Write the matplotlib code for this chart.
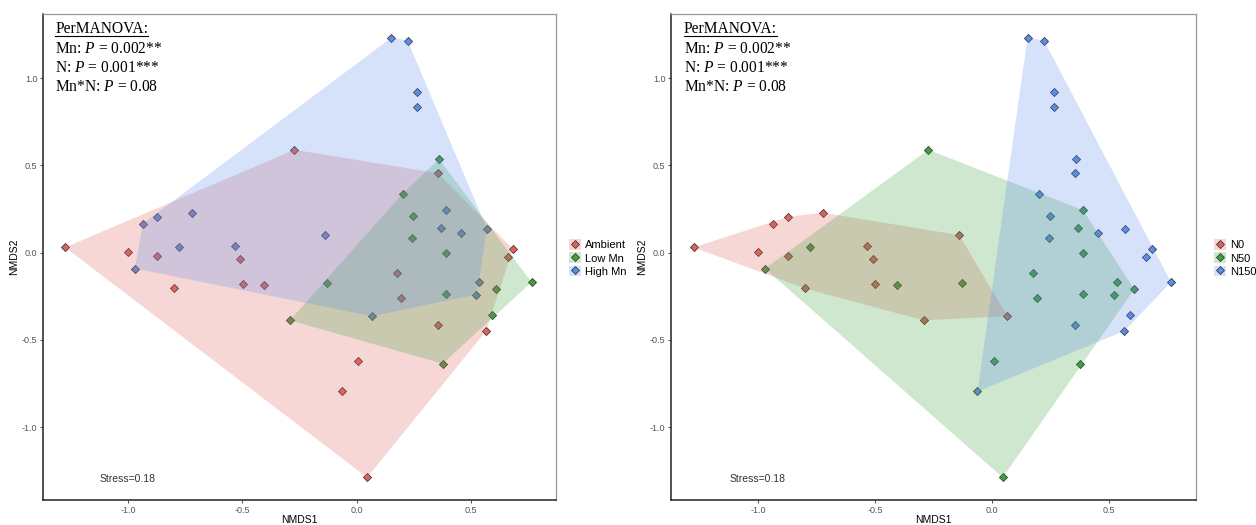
import numpy as np
import matplotlib
matplotlib.use("Agg")
import matplotlib.pyplot as plt
from matplotlib.patches import Patch, Polygon
from matplotlib.lines import Line2D

# NMDS scores
nmds1 = [-1.275, -1.002, -0.872, -0.935, -0.873, -0.722, -0.779, -0.534, -0.272, -0.140,
         0.152, 0.223, 0.266, 0.265, 0.360, 0.355, 0.201, 0.246, 0.389, 0.368,
         0.455, 0.570, 0.242, 0.391, 0.683, 0.660, 0.176, -0.130, 0.192, 0.391,
         0.535, 0.520, 0.608, 0.765, 0.066, 0.590, 0.566, 0.355, 0.376, 0.007,
         -0.062, 0.046, -0.970, -0.509, -0.800, -0.499, -0.406, -0.292]
nmds2 = [0.030, 0.006, -0.020, 0.166, 0.205, 0.229, 0.034, 0.038, 0.589, 0.100,
         1.231, 1.214, 0.920, 0.833, 0.536, 0.455, 0.337, 0.208, 0.243, 0.141,
         0.114, 0.136, 0.085, -0.003, 0.021, -0.023, -0.117, -0.176, -0.259, -0.239,
         -0.166, -0.241, -0.210, -0.169, -0.364, -0.360, -0.449, -0.417, -0.636, -0.623,
         -0.795, -1.288, -0.091, -0.036, -0.205, -0.180, -0.188, -0.388]
mn = ["Ambient", "Ambient", "Ambient", "High Mn", "High Mn", "High Mn", "High Mn", "High Mn", "Ambient", "High Mn",
      "High Mn", "High Mn", "High Mn", "High Mn", "Low Mn", "Ambient", "Low Mn", "Low Mn", "High Mn", "High Mn",
      "High Mn", "High Mn", "Low Mn", "Low Mn", "Ambient", "Ambient", "Ambient", "Low Mn", "Ambient", "Low Mn",
      "High Mn", "High Mn", "Low Mn", "Low Mn", "High Mn", "Low Mn", "Ambient", "Ambient", "Low Mn", "Ambient",
      "Ambient", "Ambient", "High Mn", "Ambient", "Ambient", "Ambient", "Ambient", "Low Mn"]
nlev = ["N0", "N0", "N0", "N0", "N0", "N0", "N50", "N0", "N50", "N0",
        "N150", "N150", "N150", "N150", "N150", "N150", "N150", "N150", "N50", "N50",
        "N150", "N150", "N150", "N50", "N150", "N150", "N50", "N50", "N50", "N50",
        "N50", "N50", "N50", "N150", "N0", "N150", "N150", "N150", "N50", "N50",
        "N150", "N50", "N50", "N0", "N0", "N0", "N50", "N0"]

mn_levels = ["Ambient", "Low Mn", "High Mn"]
n_levels = ["N0", "N50", "N150"]
stats_lines = ["Mn: $\\mathit{P}$ = 0.002**", "N: $\\mathit{P}$ = 0.001***", "Mn*N: $\\mathit{P}$ = 0.08"]
stress_label = "Stress=0.18"

colors = ["#E0625A", "#3DA33D", "#5A8DEB"]

plt.rcParams["font.family"] = ["Liberation Sans", "DejaVu Sans"]
plt.rcParams["mathtext.fontset"] = "custom"
plt.rcParams["mathtext.rm"] = "Liberation Serif"
plt.rcParams["mathtext.it"] = "Liberation Serif:italic"
plt.rcParams["axes.unicode_minus"] = False

x = np.array(nmds1)
y = np.array(nmds2)


def hull(pts):
    pts = sorted(map(tuple, pts))
    def cross(o, a, b):
        return (a[0] - o[0]) * (b[1] - o[1]) - (a[1] - o[1]) * (b[0] - o[0])
    lower, upper = [], []
    for p in pts:
        while len(lower) >= 2 and cross(lower[-2], lower[-1], p) <= 0:
            lower.pop()
        lower.append(p)
    for p in reversed(pts):
        while len(upper) >= 2 and cross(upper[-2], upper[-1], p) <= 0:
            upper.pop()
        upper.append(p)
    return np.array(lower[:-1] + upper[:-1])


W, H = 1256, 525
fig = plt.figure(figsize=(W / 100, H / 100), dpi=100)
ax_l = fig.add_axes([43 / W, 25 / H, 513 / W, 486 / H])
ax_r = fig.add_axes([671 / W, 25 / H, 525 / W, 486 / H])

TOP_Y = 0.960
STEP = 0.0395


def panel(ax, groups, levels, legend_x):
    groups = np.array(groups)
    for lev, c in zip(levels, colors):
        m = groups == lev
        ax.scatter(x[m], y[m], marker="D", s=17, color=c, edgecolor="#3a3a3a",
                   linewidth=0.6, zorder=2)
    for lev, c in zip(levels, colors):
        m = groups == lev
        h = hull(np.column_stack([x[m], y[m]]))
        ax.add_patch(Polygon(h, closed=True, facecolor=c, alpha=0.25,
                             edgecolor="none", zorder=3))
    ax.set_xlim(-1.372, 0.872)
    ax.set_ylim(-1.417, 1.367)
    ax.set_xticks([-1.0, -0.5, 0.0, 0.5])
    ax.set_yticks([-1.0, -0.5, 0.0, 0.5, 1.0])
    ax.tick_params(labelsize=6.5, labelcolor="#555555", length=2.5, width=0.6,
                   color="#333333", pad=1.5)
    for s in ["top", "right"]:
        ax.spines[s].set_color("#999999")
        ax.spines[s].set_linewidth(0.9)
    for s in ["left", "bottom"]:
        ax.spines[s].set_color("#222222")
        ax.spines[s].set_linewidth(1.1)
    ax.set_xlabel("NMDS1", fontsize=7.5, labelpad=0.5)
    ax.set_ylabel("NMDS2", fontsize=7.5, labelpad=2)
    ax.text(-1.0, -1.295, stress_label, fontsize=7.5, color="#333333",
            ha="center", va="center", zorder=4)

    t = ax.text(0.024, TOP_Y, "PerMANOVA:", transform=ax.transAxes, fontsize=11.2,
                family="Liberation Serif", va="baseline", ha="left", zorder=5)
    for i, line in enumerate(stats_lines):
        ax.text(0.024, TOP_Y - (i + 1) * STEP, line, transform=ax.transAxes,
                fontsize=11.2, family="Liberation Serif", va="baseline", ha="left", zorder=5)

    handles = [(Patch(facecolor=c, alpha=0.25, edgecolor="none"),
                Line2D([], [], marker="D", markersize=4, color=c, markeredgecolor="#3a3a3a",
                       markeredgewidth=0.6, linestyle="none"))
               for c in colors]
    fig.legend(handles, levels, loc="center left", bbox_to_anchor=(legend_x / W, 1 - 258 / H),
               frameon=False, fontsize=8, handlelength=1.1, handleheight=1.1,
               handletextpad=0.35, labelspacing=0.2, borderaxespad=0, borderpad=0)
    return ax, t


items = [panel(ax_l, mn, mn_levels, 569), panel(ax_r, nlev, n_levels, 1214)]

# underline "PerMANOVA:" just below its baseline
fig.canvas.draw()
r = fig.canvas.get_renderer()
for ax, t in items:
    bb = t.get_window_extent(renderer=r)
    base = ax.transAxes.transform((0.024, TOP_Y))[1] - 2.5
    fig.add_artist(Line2D([bb.x0 / W, bb.x1 / W], [base / H, base / H],
                          color="black", linewidth=0.8))

fig.savefig("out.png", dpi=100)
